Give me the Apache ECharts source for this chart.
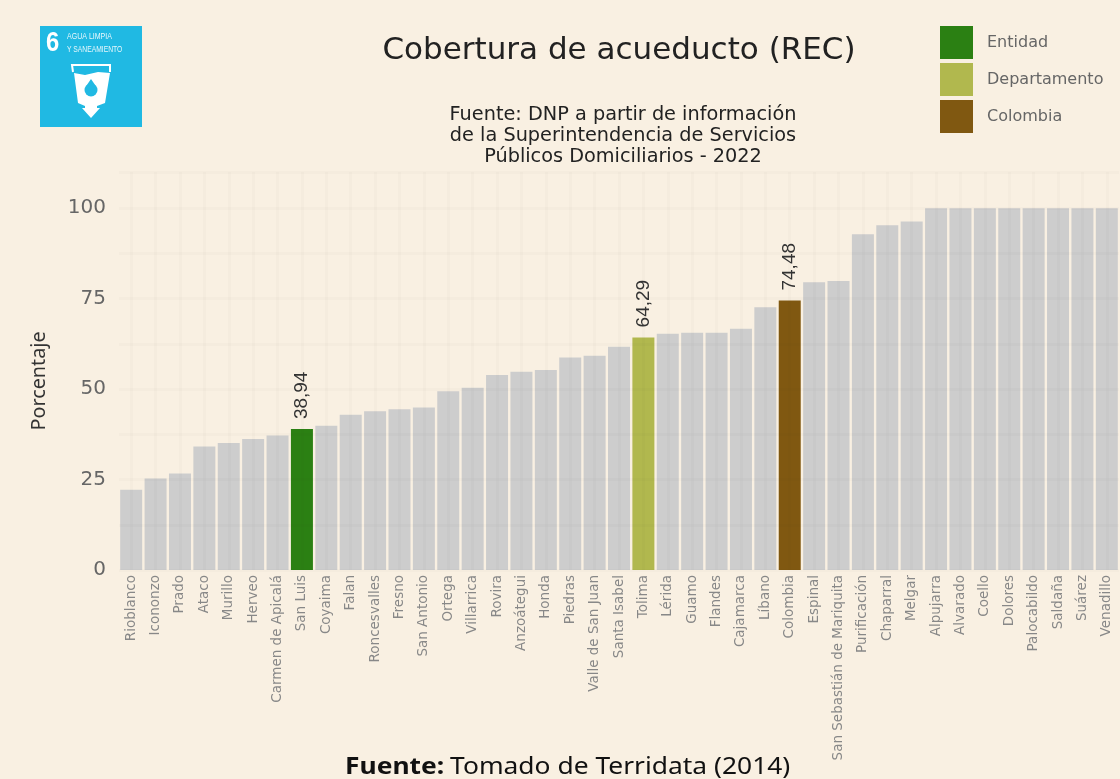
<!DOCTYPE html>
<html>
<head>
<meta charset="utf-8">
<title>Cobertura de acueducto (REC)</title>
<script src="https://cdn.jsdelivr.net/npm/echarts@6/dist/echarts.min.js"></script>
<style>
  html, body { margin: 0; padding: 0; background: #f9f0e2; }
  #chart { width: 1120px; height: 779px; }
</style>
</head>
<body>
<div id="chart"></div>
<script>
const municipios = [
  'Rioblanco', 'Icononzo', 'Prado', 'Ataco', 'Murillo', 'Herveo', 'Carmen de Apicalá',
  'San Luis', 'Coyaima', 'Falan', 'Roncesvalles', 'Fresno', 'San Antonio', 'Ortega',
  'Villarrica', 'Rovira', 'Anzoátegui', 'Honda', 'Piedras', 'Valle de San Juan',
  'Santa Isabel', 'Tolima', 'Lérida', 'Guamo', 'Flandes', 'Cajamarca', 'Líbano',
  'Colombia', 'Espinal', 'San Sebastián de Mariquita', 'Purificación', 'Chaparral',
  'Melgar', 'Alpujarra', 'Alvarado', 'Coello', 'Dolores', 'Palocabildo', 'Saldaña',
  'Suárez', 'Venadillo'
]
const cobertura = [
  22.2, 25.3, 26.7, 34.1, 35.1, 36.2, 37.2,
  38.94, 39.9, 42.9, 43.9, 44.4, 44.9, 49.4,
  50.4, 53.9, 54.8, 55.3, 58.7, 59.2,
  61.7, 64.29, 65.3, 65.6, 65.6, 66.7, 72.6,
  74.48, 79.5, 79.9, 92.8, 95.3,
  96.3, 100, 100, 100, 100, 100, 100,
  100, 100
]
const yTicks = [0, 25, 50, 75, 100]
const destacados = { Entidad: 'San Luis', Departamento: 'Tolima', Colombia: 'Colombia' }
const coloresDestacados = { Entidad: '#2b8013', Departamento: '#b1b84e', Colombia: '#805811' }

const BG = '#f9f0e2'
const SANS = '"DejaVu Sans", sans-serif'
const NOTO = '"Noto Sans", sans-serif'
const LIB = '"Liberation Sans", sans-serif'
const GRID_LINE = 'rgba(60,50,30,0.018)'

function valuesFor(name) {
  return municipios.map((m, i) => (m === name ? cobertura[i] : null))
}

const restoValues = municipios.map((m, i) =>
  Object.values(destacados).includes(m) ? null : cobertura[i]
)

const highlightSeries = Object.keys(destacados).map((key) => ({
  name: key,
  type: 'bar',
  stack: 'cobertura',
  barWidth: 22,
  itemStyle: { color: coloresDestacados[key] },
  label: {
    show: true,
    position: 'top',
    rotate: 90,
    distance: 10,
    align: 'left',
    verticalAlign: 'middle',
    fontFamily: LIB,
    fontSize: 19,
    color: '#333333',
    formatter: (p) => (p.value == null ? '' : p.value.toFixed(2).replace('.', ','))
  },
  data: valuesFor(destacados[key])
}))

// logo ODS 6, dibujado a mano
const logo = {
  type: 'group',
  left: 40,
  top: 26,
  children: [
    { type: 'rect', shape: { x: 0, y: 0, width: 102, height: 101 }, style: { fill: '#20b9e3' } },
    { type: 'text', x: 6, y: 3, scaleX: 0.85, style: { text: '6', fill: '#fff', font: 'bold 28px ' + LIB } },
    { type: 'text', x: 27, y: 5, scaleX: 0.74, style: { text: 'AGUA LIMPIA', fill: '#e6f7fc', font: '9.5px ' + LIB } },
    { type: 'text', x: 27, y: 18, scaleX: 0.71, style: { text: 'Y SANEAMIENTO', fill: '#e6f7fc', font: '9.5px ' + LIB } },
    { type: 'polyline', shape: { points: [[33, 46], [32, 39], [70, 39], [70, 46]] }, style: { stroke: '#fff', lineWidth: 2, fill: null } },
    { type: 'polygon', shape: { points: [[34, 47], [45, 49], [58, 46], [70, 47], [65, 77], [57, 80], [57, 82], [60, 82], [51, 92], [42, 82], [45, 82], [45, 80], [38, 77]] }, style: { fill: '#fff' } },
    { type: 'circle', shape: { cx: 51, cy: 64, r: 6.5 }, style: { fill: '#20b9e3' } },
    { type: 'polygon', shape: { points: [[51, 53], [45.5, 61], [56.5, 61]] }, style: { fill: '#20b9e3' } }
  ]
}

const pie = {
  type: 'text',
  x: 345,
  y: 755,
  scaleX: 1.1,
  style: {
    rich: {
      b: { fontFamily: NOTO, fontWeight: 'bold', fontSize: 24, fill: '#111' },
      n: { fontFamily: NOTO, fontSize: 24, fill: '#111', padding: [0, 0, 0, 2] }
    },
    text: '{b|Fuente:} {n|Tomado de Terridata (2014)}'
  }
}

const chart = echarts.init(document.getElementById('chart'), null, { renderer: 'canvas' })

chart.setOption({
  backgroundColor: BG,
  animation: false,
  title: [
    {
      text: 'Cobertura de acueducto (REC)',
      left: 614,
      top: 30,
      textAlign: 'center',
      textStyle: { fontFamily: SANS, fontSize: 31, fontWeight: 'normal', color: '#222222' }
    },
    {
      text: 'Fuente: DNP a partir de información\nde la Superintendencia de Servicios\nPúblicos Domiciliarios - 2022',
      left: 618,
      top: 99,
      textAlign: 'center',
      textStyle: { fontFamily: SANS, fontSize: 19.3, fontWeight: 'normal', color: '#222222', lineHeight: 21, align: 'center' }
    }
  ],
  legend: {
    orient: 'vertical',
    left: 940,
    top: 26,
    padding: 0,
    itemWidth: 33,
    itemHeight: 33,
    itemGap: 4,
    icon: 'rect',
    selectedMode: false,
    textStyle: { fontFamily: SANS, fontSize: 16, color: '#666666', padding: [0, 0, 0, 9] },
    data: Object.keys(destacados)
  },
  grid: { left: 119, right: 1, top: 172, bottom: 209 },
  xAxis: {
    type: 'category',
    data: municipios,
    z: 3,
    axisLine: { show: false },
    axisTick: { show: false },
    axisLabel: {
      rotate: 90,
      interval: 0,
      margin: 5,
      fontFamily: SANS,
      fontSize: 13.5,
      color: '#888888'
    },
    splitLine: {
      show: true,
      alignWithLabel: true,
      interval: 0,
      lineStyle: { color: GRID_LINE, width: 3 }
    }
  },
  yAxis: {
    type: 'value',
    min: 0,
    max: 110,
    interval: 12.5,
    z: 3,
    name: 'Porcentaje',
    nameLocation: 'middle',
    nameGap: 70,
    nameTextStyle: { fontFamily: NOTO, fontSize: 19.8, color: '#333333', padding: [0, 20, 0, 0] },
    axisLine: { show: false },
    axisTick: { show: false },
    axisLabel: {
      margin: 13,
      fontFamily: SANS,
      fontSize: 20,
      color: '#666666',
      formatter: (v) => (yTicks.includes(v) ? String(v) : '')
    },
    splitLine: { lineStyle: { color: GRID_LINE, width: 3 } }
  },
  graphic: [logo, pie],
  series: [
    {
      name: 'Otros',
      type: 'bar',
      stack: 'cobertura',
      barWidth: 22,
      itemStyle: { color: '#cdcdcd' },
      data: restoValues
    },
    ...highlightSeries
  ]
})
</script>
</body>
</html>
